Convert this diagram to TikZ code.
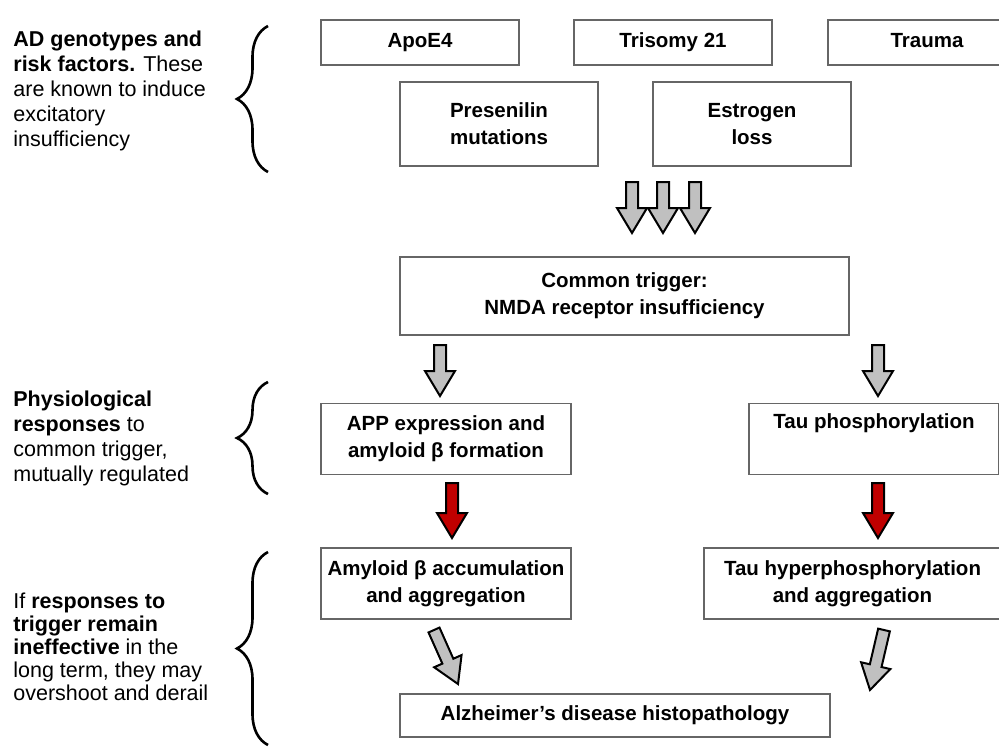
\documentclass[tikz,border=0pt]{standalone}
\usepackage{fontspec}
\setmainfont{Liberation Sans}
\usetikzlibrary{calc, decorations.pathreplacing}
\definecolor{arrowred}{RGB}{192,0,0}
\definecolor{arrowgray}{RGB}{192,192,192}
\tikzstyle{box} = [draw=black!60, line width=0.6pt, align=center, inner sep=0pt, font=\fontsize{10.25}{13.5}\selectfont\bfseries]
\tikzstyle{note} = [anchor=north west, align=left, inner sep=0pt, font=\fontsize{10.75}{12.5}\selectfont]
\tikzstyle{brace} = [decorate, decoration={brace, amplitude=15.5pt}, line width=1.3pt]
\tikzstyle{grayarrow} = [draw=black, line width=1pt, fill=arrowgray]
\tikzstyle{redarrow} = [draw=black, line width=1pt, fill=arrowred]
% block arrow from #1 to #2
\newcommand{\fatarrow}[3]{%
  \coordinate (h) at ($(#2)!12.5pt!(#1)$);
  \draw[#3] ($(#1)!3pt!90:(#2)$) -- ($(h)!3pt!90:(#2)$) -- ($(h)!7.5pt!90:(#2)$) -- (#2)
    -- ($(h)!7.5pt!-90:(#2)$) -- ($(h)!3pt!-90:(#2)$) -- ($(#1)!3pt!-90:(#2)$) -- cycle;}
\begin{document}
\begin{tikzpicture}[x=0.5pt, y=-0.5pt,
        small/.style={box, minimum width=99pt, minimum height=22.5pt, text height=7.6pt, text depth=2.2pt},
        pair/.style={box, minimum width=99pt, minimum height=42pt},
        wide/.style={box, minimum width=125pt, minimum height=35.5pt}
    ]
    \path[use as bounding box, clip] (0,0) rectangle (999,749);
    \fill[white] (0,0) rectangle (999,749);

    % genotypes and risk factors
    \node[small] (apoe) at (420,42.5) {ApoE4};
    \node[small] (tri) at (673,42.5) {Trisomy 21};
    \node[small] (trauma) at (927,42.5) {Trauma};
    \node[pair] (pres) at (499,124) {Presenilin\\mutations};
    \node[pair] (estr) at (752,124) {Estrogen\\loss};

    % common trigger
    \node[box, minimum width=224.5pt, minimum height=39pt] (trig) at (624.5,296)
        {Common trigger:\\NMDA receptor insufficiency};

    % responses
    \node[wide] (app) at (446,439) {APP expression and\\amyloid β formation};
    \node[wide] (tau) at (874,439) {Tau phosphorylation\\\strut};
    \node[wide] (amy) at (446,583.5) {Amyloid β accumulation\\and aggregation};
    \node[wide, minimum width=148.5pt] (tauh) at (852.5,583.5) {Tau hyperphosphorylation\\and aggregation};
    \node[box, minimum width=215pt, minimum height=21.5pt] (ad) at (615,715.5) {Alzheimer’s disease histopathology};

    % arrow ends
    \coordinate (s1) at (632,182);  \coordinate (t1) at (632,233);
    \coordinate (s2) at (663,182);  \coordinate (t2) at (663,233);
    \coordinate (s3) at (695,182);  \coordinate (t3) at (695,233);
    \coordinate (s4) at (440,345);  \coordinate (t4) at (440,396);
    \coordinate (s5) at (878,345);  \coordinate (t5) at (878,396);
    \coordinate (s6) at (452,483);  \coordinate (t6) at (452,538);
    \coordinate (s7) at (878,483);  \coordinate (t7) at (878,538);
    \coordinate (s8) at (434,630);  \coordinate (t8) at (458,684);
    \coordinate (s9) at (884,630);  \coordinate (t9) at (870,690);

    \fatarrow{s1}{t1}{grayarrow}
    \fatarrow{s2}{t2}{grayarrow}
    \fatarrow{s3}{t3}{grayarrow}
    \fatarrow{s4}{t4}{grayarrow}
    \fatarrow{s5}{t5}{grayarrow}
    \fatarrow{s6}{t6}{redarrow}
    \fatarrow{s7}{t7}{redarrow}
    \fatarrow{s8}{t8}{grayarrow}
    \fatarrow{s9}{t9}{grayarrow}

    % braces and notes
    \draw[brace] (268,172) -- (268,26);
    \draw[brace] (268,494) -- (268,382);
    \draw[brace] (268,745) -- (268,552);

    \node[note] (genes) at (13,31) {\textbf{AD genotypes and}\\\textbf{risk factors.} These\\are known to induce\\excitatory\\insufficiency};
    \node[note] (resp) at (13,391) {\textbf{Physiological}\\\textbf{responses} to\\common trigger,\\mutually regulated};
    \node[note, font=\fontsize{10.75}{11.5}\selectfont] (derail) at (13,593) {If \textbf{responses to}\\\textbf{trigger remain}\\\textbf{ineffective} in the\\long term, they may\\overshoot and derail};
\end{tikzpicture}
\end{document}
